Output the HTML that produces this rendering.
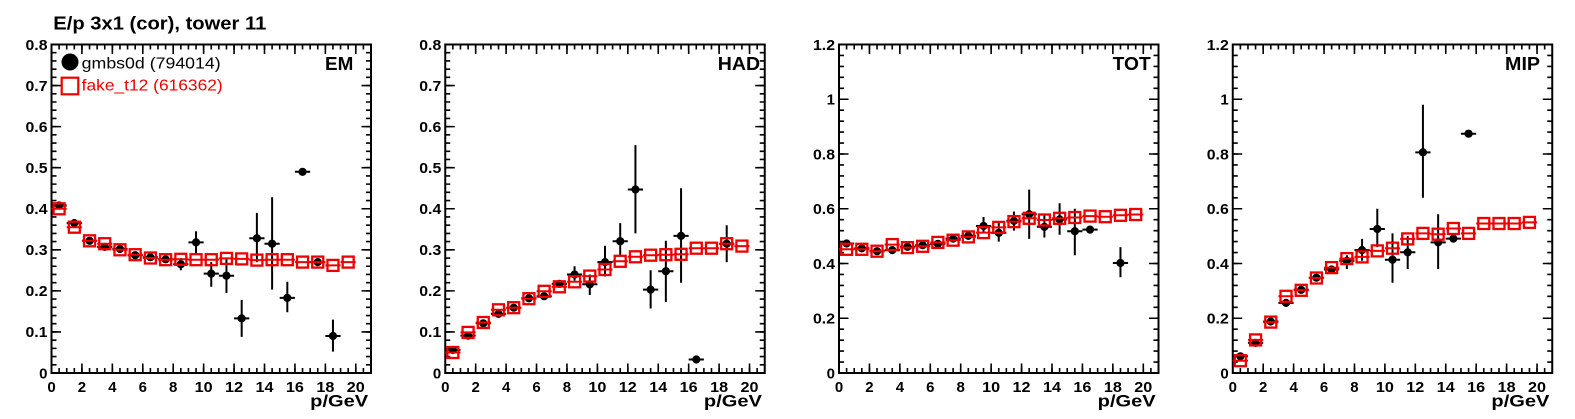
<!DOCTYPE html>
<html>
<head>
<meta charset="utf-8">
<style>
html,body{margin:0;padding:0;background:#fff;}
svg{display:block;}
text{font-family:"Liberation Sans",Arial,sans-serif;}
.tl{font-size:15px;font-weight:bold;fill:#000;}
.ax{font-size:17px;font-weight:bold;fill:#000;}
.lb{font-size:18px;font-weight:bold;fill:#000;}
</style>
</head>
<body>
<svg width="1575" height="419" viewBox="0 0 1575 419" xmlns="http://www.w3.org/2000/svg">
<rect x="0" y="0" width="1575" height="419" fill="#fff"/>
<defs>
  <circle id="dot" r="4.1" fill="#000"/>
  <rect id="sq" x="-5.5" y="-5.5" width="11" height="11" fill="none" stroke="#e00" stroke-width="2.3"/>
  <g id="ticksA" stroke="#000" fill="none">
    <line x1="0" y1="-4.75" x2="319.5" y2="-4.75" stroke-width="9.5" stroke-dasharray="1.6 28.8286" stroke-dashoffset="0.8"/>
    <line x1="0" y1="-2.5" x2="319.5" y2="-2.5" stroke-width="5" stroke-dasharray="1.6 6.0071" stroke-dashoffset="0.8"/>
    <line x1="0" y1="-323.75" x2="319.5" y2="-323.75" stroke-width="9.5" stroke-dasharray="1.6 28.8286" stroke-dashoffset="0.8"/>
    <line x1="0" y1="-326" x2="319.5" y2="-326" stroke-width="5" stroke-dasharray="1.6 6.0071" stroke-dashoffset="0.8"/>
    <line x1="4.75" y1="0" x2="4.75" y2="-328.5" stroke-width="9.5" stroke-dasharray="1.6 39.4625" stroke-dashoffset="0.8"/>
    <line x1="2.5" y1="0" x2="2.5" y2="-328.5" stroke-width="5" stroke-dasharray="1.6 6.6125" stroke-dashoffset="0.8"/>
    <line x1="314.75" y1="0" x2="314.75" y2="-328.5" stroke-width="9.5" stroke-dasharray="1.6 39.4625" stroke-dashoffset="0.8"/>
    <line x1="317" y1="0" x2="317" y2="-328.5" stroke-width="5" stroke-dasharray="1.6 6.6125" stroke-dashoffset="0.8"/>
    <rect x="0" y="-328.5" width="319.5" height="328.5" stroke-width="2"/>
  </g>
  <g id="ticksB" stroke="#000" fill="none">
    <line x1="0" y1="-4.75" x2="319.5" y2="-4.75" stroke-width="9.5" stroke-dasharray="1.6 28.8286" stroke-dashoffset="0.8"/>
    <line x1="0" y1="-2.5" x2="319.5" y2="-2.5" stroke-width="5" stroke-dasharray="1.6 6.0071" stroke-dashoffset="0.8"/>
    <line x1="0" y1="-323.75" x2="319.5" y2="-323.75" stroke-width="9.5" stroke-dasharray="1.6 28.8286" stroke-dashoffset="0.8"/>
    <line x1="0" y1="-326" x2="319.5" y2="-326" stroke-width="5" stroke-dasharray="1.6 6.0071" stroke-dashoffset="0.8"/>
    <line x1="4.75" y1="0" x2="4.75" y2="-328.5" stroke-width="9.5" stroke-dasharray="1.6 53.15" stroke-dashoffset="0.8"/>
    <line x1="2.5" y1="0" x2="2.5" y2="-328.5" stroke-width="5" stroke-dasharray="1.6 9.35" stroke-dashoffset="0.8"/>
    <line x1="314.75" y1="0" x2="314.75" y2="-328.5" stroke-width="9.5" stroke-dasharray="1.6 53.15" stroke-dashoffset="0.8"/>
    <line x1="317" y1="0" x2="317" y2="-328.5" stroke-width="5" stroke-dasharray="1.6 9.35" stroke-dashoffset="0.8"/>
    <rect x="0" y="-328.5" width="319.5" height="328.5" stroke-width="2"/>
  </g>
</defs>

<!-- Title -->
<text x="53.3" y="29.3" font-size="18.5" font-weight="bold" textLength="213" lengthAdjust="spacingAndGlyphs">E/p 3x1 (cor), tower 11</text>

<!-- ================= PANEL 1 : EM ================= -->
<g transform="translate(51.5,0)">
  <g class="tl" text-anchor="end">
    <text x="-4" y="378.3">0</text>
    <text x="-4" y="337.2" textLength="22" lengthAdjust="spacingAndGlyphs">0.1</text>
    <text x="-4" y="296.2" textLength="22" lengthAdjust="spacingAndGlyphs">0.2</text>
    <text x="-4" y="255.1" textLength="22" lengthAdjust="spacingAndGlyphs">0.3</text>
    <text x="-4" y="214.1" textLength="22" lengthAdjust="spacingAndGlyphs">0.4</text>
    <text x="-4" y="173" textLength="22" lengthAdjust="spacingAndGlyphs">0.5</text>
    <text x="-4" y="131.9" textLength="22" lengthAdjust="spacingAndGlyphs">0.6</text>
    <text x="-4" y="90.9" textLength="22" lengthAdjust="spacingAndGlyphs">0.7</text>
    <text x="-4" y="49.8" textLength="22" lengthAdjust="spacingAndGlyphs">0.8</text>
  </g>
  <g class="tl" text-anchor="middle">
    <text x="0" y="392">0</text>
    <text x="30.43" y="392">2</text>
    <text x="60.86" y="392">4</text>
    <text x="91.29" y="392">6</text>
    <text x="121.71" y="392">8</text>
    <text x="152.14" y="392" textLength="18" lengthAdjust="spacingAndGlyphs">10</text>
    <text x="182.57" y="392" textLength="18" lengthAdjust="spacingAndGlyphs">12</text>
    <text x="213" y="392" textLength="18" lengthAdjust="spacingAndGlyphs">14</text>
    <text x="243.43" y="392" textLength="18" lengthAdjust="spacingAndGlyphs">16</text>
    <text x="273.86" y="392" textLength="18" lengthAdjust="spacingAndGlyphs">18</text>
    <text x="304.29" y="392" textLength="18" lengthAdjust="spacingAndGlyphs">20</text>
  </g>
  <text class="ax" x="258.7" y="406.5" textLength="58" lengthAdjust="spacingAndGlyphs">p/GeV</text>
  <text class="lb" x="273.5" y="70" textLength="28.3" lengthAdjust="spacingAndGlyphs">EM</text>

  <g transform="translate(0,373)">
    <use href="#ticksA"/>
    <!-- black -->
    <path fill="none" stroke="#000" stroke-width="2" d="M0,-167.5h15.21M15.21,-149.9h15.21M30.43,-132.2h15.21M45.64,-126.1h15.21M60.86,-124h15.21M76.07,-117.8h15.21M91.29,-115.8h15.21M106.5,-113.7h15.21M121.71,-108.8h15.21M136.93,-130.6h15.21M152.14,-99.4h15.21M167.36,-97.3h15.21M182.57,-54.6h15.21M197.79,-134.7h15.21M213,-129.3h15.21M228.21,-75.1h15.21M243.43,-201.2h15.21M258.64,-110.9h15.21M273.86,-37h15.21
    M129.32,-102.7V-115M144.54,-119.1V-141.7M159.75,-86.2V-110.9M174.96,-80.1V-115M190.18,-36.1V-73.1M205.39,-110.9V-160.1M220.61,-83.4V-175.7M235.82,-60.8V-91.2M281.46,-21.4V-53.4"/>
    <use href="#dot" x="7.61" y="-167.5"/><use href="#dot" x="22.82" y="-149.9"/><use href="#dot" x="38.04" y="-132.2"/><use href="#dot" x="53.25" y="-126.1"/><use href="#dot" x="68.46" y="-124"/><use href="#dot" x="83.68" y="-117.8"/><use href="#dot" x="98.89" y="-115.8"/><use href="#dot" x="114.11" y="-113.7"/><use href="#dot" x="129.32" y="-108.8"/><use href="#dot" x="144.54" y="-130.6"/><use href="#dot" x="159.75" y="-99.4"/><use href="#dot" x="174.96" y="-97.3"/><use href="#dot" x="190.18" y="-54.6"/><use href="#dot" x="205.39" y="-134.7"/><use href="#dot" x="220.61" y="-129.3"/><use href="#dot" x="235.82" y="-75.1"/><use href="#dot" x="251.04" y="-201.2"/><use href="#dot" x="266.25" y="-110.9"/><use href="#dot" x="281.46" y="-37"/>
    <!-- red -->
    <path fill="none" stroke="#e00" stroke-width="2" d="M0,-164.2h15.21M15.21,-145.8h15.21M30.43,-132.2h15.21M45.64,-129.3h15.21M60.86,-123.2h15.21M76.07,-118.3h15.21M91.29,-115h15.21M106.5,-113.3h15.21M121.71,-113.7h15.21M136.93,-113.3h15.21M152.14,-113.3h15.21M167.36,-114.6h15.21M182.57,-114.1h15.21M197.79,-112.9h15.21M213,-113.3h15.21M228.21,-113.3h15.21M243.43,-110.9h15.21M258.64,-110.9h15.21M273.86,-107.6h15.21M289.07,-110.9h15.21"/>
    <use href="#sq" x="7.61" y="-164.2"/><use href="#sq" x="22.82" y="-145.8"/><use href="#sq" x="38.04" y="-132.2"/><use href="#sq" x="53.25" y="-129.3"/><use href="#sq" x="68.46" y="-123.2"/><use href="#sq" x="83.68" y="-118.3"/><use href="#sq" x="98.89" y="-115"/><use href="#sq" x="114.11" y="-113.3"/><use href="#sq" x="129.32" y="-113.7"/><use href="#sq" x="144.54" y="-113.3"/><use href="#sq" x="159.75" y="-113.3"/><use href="#sq" x="174.96" y="-114.6"/><use href="#sq" x="190.18" y="-114.1"/><use href="#sq" x="205.39" y="-112.9"/><use href="#sq" x="220.61" y="-113.3"/><use href="#sq" x="235.82" y="-113.3"/><use href="#sq" x="251.04" y="-110.9"/><use href="#sq" x="266.25" y="-110.9"/><use href="#sq" x="281.46" y="-107.6"/><use href="#sq" x="296.68" y="-110.9"/>
  </g>
</g>

<!-- Legend -->
<circle cx="70" cy="62" r="8.5" fill="#000"/>
<text x="81.7" y="68.3" font-size="16" fill="#000" textLength="139" lengthAdjust="spacingAndGlyphs">gmbs0d (794014)</text>
<rect x="61.7" y="77.7" width="16.6" height="16.6" fill="none" stroke="#e00" stroke-width="2.2"/>
<text x="81.7" y="90.7" font-size="16" fill="#e00" textLength="141" lengthAdjust="spacingAndGlyphs">fake_t12 (616362)</text>

<!-- ================= PANEL 2 : HAD ================= -->
<g transform="translate(445.25,0)">
  <g class="tl" text-anchor="end">
    <text x="-4" y="378.3">0</text>
    <text x="-4" y="337.2" textLength="22" lengthAdjust="spacingAndGlyphs">0.1</text>
    <text x="-4" y="296.2" textLength="22" lengthAdjust="spacingAndGlyphs">0.2</text>
    <text x="-4" y="255.1" textLength="22" lengthAdjust="spacingAndGlyphs">0.3</text>
    <text x="-4" y="214.1" textLength="22" lengthAdjust="spacingAndGlyphs">0.4</text>
    <text x="-4" y="173" textLength="22" lengthAdjust="spacingAndGlyphs">0.5</text>
    <text x="-4" y="131.9" textLength="22" lengthAdjust="spacingAndGlyphs">0.6</text>
    <text x="-4" y="90.9" textLength="22" lengthAdjust="spacingAndGlyphs">0.7</text>
    <text x="-4" y="49.8" textLength="22" lengthAdjust="spacingAndGlyphs">0.8</text>
  </g>
  <g class="tl" text-anchor="middle">
    <text x="0" y="392">0</text>
    <text x="30.43" y="392">2</text>
    <text x="60.86" y="392">4</text>
    <text x="91.29" y="392">6</text>
    <text x="121.71" y="392">8</text>
    <text x="152.14" y="392" textLength="18" lengthAdjust="spacingAndGlyphs">10</text>
    <text x="182.57" y="392" textLength="18" lengthAdjust="spacingAndGlyphs">12</text>
    <text x="213" y="392" textLength="18" lengthAdjust="spacingAndGlyphs">14</text>
    <text x="243.43" y="392" textLength="18" lengthAdjust="spacingAndGlyphs">16</text>
    <text x="273.86" y="392" textLength="18" lengthAdjust="spacingAndGlyphs">18</text>
    <text x="304.29" y="392" textLength="18" lengthAdjust="spacingAndGlyphs">20</text>
  </g>
  <text class="ax" x="258.7" y="406.5" textLength="58" lengthAdjust="spacingAndGlyphs">p/GeV</text>
  <text class="lb" x="272.5" y="70" textLength="42.3" lengthAdjust="spacingAndGlyphs">HAD</text>

  <g transform="translate(0,373)">
    <use href="#ticksA"/>
    <path fill="none" stroke="#000" stroke-width="2" d="M0,-23h15.21M15.21,-37.4h15.21M30.43,-49.7h15.21M45.64,-59.1h15.21M60.86,-65.3h15.21M76.07,-74.7h15.21M91.29,-76.8h15.21M106.5,-89.1h15.21M121.71,-98.5h15.21M136.93,-88.7h15.21M152.14,-110.9h15.21M167.36,-131.8h15.21M182.57,-183.5h15.21M197.79,-83.4h15.21M213,-101.8h15.21M228.21,-137.1h15.21M243.43,-13.5h15.21M273.86,-129.3h15.21
    M129.32,-92.4V-106.8M144.54,-78V-98.5M159.75,-96.5V-127.3M174.96,-117V-149.9M190.18,-139.6V-227.9M205.39,-64.5V-102.7M220.61,-71V-132.2M235.82,-90.3V-184.8M281.46,-110.9V-147.8"/>
    <use href="#dot" x="7.61" y="-23"/><use href="#dot" x="22.82" y="-37.4"/><use href="#dot" x="38.04" y="-49.7"/><use href="#dot" x="53.25" y="-59.1"/><use href="#dot" x="68.46" y="-65.3"/><use href="#dot" x="83.68" y="-74.7"/><use href="#dot" x="98.89" y="-76.8"/><use href="#dot" x="114.11" y="-89.1"/><use href="#dot" x="129.32" y="-98.5"/><use href="#dot" x="144.54" y="-88.7"/><use href="#dot" x="159.75" y="-110.9"/><use href="#dot" x="174.96" y="-131.8"/><use href="#dot" x="190.18" y="-183.5"/><use href="#dot" x="205.39" y="-83.4"/><use href="#dot" x="220.61" y="-101.8"/><use href="#dot" x="235.82" y="-137.1"/><use href="#dot" x="251.04" y="-13.5"/><use href="#dot" x="281.46" y="-129.3"/>
    <path fill="none" stroke="#e00" stroke-width="2" d="M0,-20.5h15.21M15.21,-40.6h15.21M30.43,-50.5h15.21M45.64,-63.2h15.21M60.86,-65.3h15.21M76.07,-74.3h15.21M91.29,-81.7h15.21M106.5,-86.2h15.21M121.71,-91.2h15.21M136.93,-96.9h15.21M152.14,-103.5h15.21M167.36,-111.7h15.21M182.57,-116.2h15.21M197.79,-117.8h15.21M213,-118.3h15.21M228.21,-118.7h15.21M243.43,-124.8h15.21M258.64,-124.8h15.21M273.86,-129.3h15.21M289.07,-126.9h15.21"/>
    <use href="#sq" x="7.61" y="-20.5"/><use href="#sq" x="22.82" y="-40.6"/><use href="#sq" x="38.04" y="-50.5"/><use href="#sq" x="53.25" y="-63.2"/><use href="#sq" x="68.46" y="-65.3"/><use href="#sq" x="83.68" y="-74.3"/><use href="#sq" x="98.89" y="-81.7"/><use href="#sq" x="114.11" y="-86.2"/><use href="#sq" x="129.32" y="-91.2"/><use href="#sq" x="144.54" y="-96.9"/><use href="#sq" x="159.75" y="-103.5"/><use href="#sq" x="174.96" y="-111.7"/><use href="#sq" x="190.18" y="-116.2"/><use href="#sq" x="205.39" y="-117.8"/><use href="#sq" x="220.61" y="-118.3"/><use href="#sq" x="235.82" y="-118.7"/><use href="#sq" x="251.04" y="-124.8"/><use href="#sq" x="266.25" y="-124.8"/><use href="#sq" x="281.46" y="-129.3"/><use href="#sq" x="296.68" y="-126.9"/>
  </g>
</g>

<!-- ================= PANEL 3 : TOT ================= -->
<g transform="translate(839,0)">
  <g class="tl" text-anchor="end">
    <text x="-4" y="378.3">0</text>
    <text x="-4" y="323.55" textLength="22" lengthAdjust="spacingAndGlyphs">0.2</text>
    <text x="-4" y="268.8" textLength="22" lengthAdjust="spacingAndGlyphs">0.4</text>
    <text x="-4" y="214.05" textLength="22" lengthAdjust="spacingAndGlyphs">0.6</text>
    <text x="-4" y="159.3" textLength="22" lengthAdjust="spacingAndGlyphs">0.8</text>
    <text x="-4" y="104.55">1</text>
    <text x="-4" y="49.8" textLength="22" lengthAdjust="spacingAndGlyphs">1.2</text>
  </g>
  <g class="tl" text-anchor="middle">
    <text x="0" y="392">0</text>
    <text x="30.43" y="392">2</text>
    <text x="60.86" y="392">4</text>
    <text x="91.29" y="392">6</text>
    <text x="121.71" y="392">8</text>
    <text x="152.14" y="392" textLength="18" lengthAdjust="spacingAndGlyphs">10</text>
    <text x="182.57" y="392" textLength="18" lengthAdjust="spacingAndGlyphs">12</text>
    <text x="213" y="392" textLength="18" lengthAdjust="spacingAndGlyphs">14</text>
    <text x="243.43" y="392" textLength="18" lengthAdjust="spacingAndGlyphs">16</text>
    <text x="273.86" y="392" textLength="18" lengthAdjust="spacingAndGlyphs">18</text>
    <text x="304.29" y="392" textLength="18" lengthAdjust="spacingAndGlyphs">20</text>
  </g>
  <text class="ax" x="258.7" y="406.5" textLength="58" lengthAdjust="spacingAndGlyphs">p/GeV</text>
  <text class="lb" x="273.7" y="70" textLength="38" lengthAdjust="spacingAndGlyphs">TOT</text>

  <g transform="translate(0,373)">
    <use href="#ticksB"/>
    <path fill="none" stroke="#000" stroke-width="2" d="M0,-129.5h15.21M15.21,-124.6h15.21M30.43,-121.8h15.21M45.64,-122.9h15.21M60.86,-126.2h15.21M76.07,-127.8h15.21M91.29,-129.2h15.21M106.5,-134.4h15.21M121.71,-137.1h15.21M136.93,-147h15.21M152.14,-140.2h15.21M167.36,-152.2h15.21M182.57,-158.8h15.21M197.79,-146.2h15.21M213,-153.6h15.21M228.21,-141.8h15.21M243.43,-143.4h15.21M273.86,-110h15.21
    M144.54,-139.6V-156M159.75,-131.4V-150.6M174.96,-142.4V-161.5M190.18,-134.1V-183.4M205.39,-135.5V-158.8M220.61,-138.2V-169.7M235.82,-117.7V-164.3M281.46,-95.8V-125.9"/>
    <use href="#dot" x="7.61" y="-129.5"/><use href="#dot" x="22.82" y="-124.6"/><use href="#dot" x="38.04" y="-121.8"/><use href="#dot" x="53.25" y="-122.9"/><use href="#dot" x="68.46" y="-126.2"/><use href="#dot" x="83.68" y="-127.8"/><use href="#dot" x="98.89" y="-129.2"/><use href="#dot" x="114.11" y="-134.4"/><use href="#dot" x="129.32" y="-137.1"/><use href="#dot" x="144.54" y="-147"/><use href="#dot" x="159.75" y="-140.2"/><use href="#dot" x="174.96" y="-152.2"/><use href="#dot" x="190.18" y="-158.8"/><use href="#dot" x="205.39" y="-146.2"/><use href="#dot" x="220.61" y="-153.6"/><use href="#dot" x="235.82" y="-141.8"/><use href="#dot" x="251.04" y="-143.4"/><use href="#dot" x="281.46" y="-110"/>
    <path fill="none" stroke="#e00" stroke-width="2" d="M0,-123.7h15.21M15.21,-123.7h15.21M30.43,-121.8h15.21M45.64,-128.4h15.21M60.86,-125.4h15.21M76.07,-126.7h15.21M91.29,-130.6h15.21M106.5,-132.8h15.21M121.71,-136.1h15.21M136.93,-140.4h15.21M152.14,-145.6h15.21M167.36,-151.4h15.21M182.57,-154.7h15.21M197.79,-153h15.21M213,-154.7h15.21M228.21,-155.5h15.21M243.43,-156.9h15.21M258.64,-156.3h15.21M273.86,-157.7h15.21M289.07,-158.5h15.21"/>
    <use href="#sq" x="7.61" y="-123.7"/><use href="#sq" x="22.82" y="-123.7"/><use href="#sq" x="38.04" y="-121.8"/><use href="#sq" x="53.25" y="-128.4"/><use href="#sq" x="68.46" y="-125.4"/><use href="#sq" x="83.68" y="-126.7"/><use href="#sq" x="98.89" y="-130.6"/><use href="#sq" x="114.11" y="-132.8"/><use href="#sq" x="129.32" y="-136.1"/><use href="#sq" x="144.54" y="-140.4"/><use href="#sq" x="159.75" y="-145.6"/><use href="#sq" x="174.96" y="-151.4"/><use href="#sq" x="190.18" y="-154.7"/><use href="#sq" x="205.39" y="-153"/><use href="#sq" x="220.61" y="-154.7"/><use href="#sq" x="235.82" y="-155.5"/><use href="#sq" x="251.04" y="-156.9"/><use href="#sq" x="266.25" y="-156.3"/><use href="#sq" x="281.46" y="-157.7"/><use href="#sq" x="296.68" y="-158.5"/>
  </g>
</g>

<!-- ================= PANEL 4 : MIP ================= -->
<g transform="translate(1232.75,0)">
  <g class="tl" text-anchor="end">
    <text x="-4" y="378.3">0</text>
    <text x="-4" y="323.55" textLength="22" lengthAdjust="spacingAndGlyphs">0.2</text>
    <text x="-4" y="268.8" textLength="22" lengthAdjust="spacingAndGlyphs">0.4</text>
    <text x="-4" y="214.05" textLength="22" lengthAdjust="spacingAndGlyphs">0.6</text>
    <text x="-4" y="159.3" textLength="22" lengthAdjust="spacingAndGlyphs">0.8</text>
    <text x="-4" y="104.55">1</text>
    <text x="-4" y="49.8" textLength="22" lengthAdjust="spacingAndGlyphs">1.2</text>
  </g>
  <g class="tl" text-anchor="middle">
    <text x="0" y="392">0</text>
    <text x="30.43" y="392">2</text>
    <text x="60.86" y="392">4</text>
    <text x="91.29" y="392">6</text>
    <text x="121.71" y="392">8</text>
    <text x="152.14" y="392" textLength="18" lengthAdjust="spacingAndGlyphs">10</text>
    <text x="182.57" y="392" textLength="18" lengthAdjust="spacingAndGlyphs">12</text>
    <text x="213" y="392" textLength="18" lengthAdjust="spacingAndGlyphs">14</text>
    <text x="243.43" y="392" textLength="18" lengthAdjust="spacingAndGlyphs">16</text>
    <text x="273.86" y="392" textLength="18" lengthAdjust="spacingAndGlyphs">18</text>
    <text x="304.29" y="392" textLength="18" lengthAdjust="spacingAndGlyphs">20</text>
  </g>
  <text class="ax" x="258.7" y="406.5" textLength="58" lengthAdjust="spacingAndGlyphs">p/GeV</text>
  <text class="lb" x="272.3" y="70" textLength="35" lengthAdjust="spacingAndGlyphs">MIP</text>

  <g transform="translate(0,373)">
    <use href="#ticksB"/>
    <path fill="none" stroke="#000" stroke-width="2" d="M0,-16.7h15.21M15.21,-30.1h15.21M30.43,-51.5h15.21M45.64,-70.1h15.21M60.86,-83.2h15.21M76.07,-95.3h15.21M91.29,-103.5h15.21M106.5,-112.2h15.21M121.71,-122.9h15.21M136.93,-144h15.21M152.14,-113.3h15.21M167.36,-120.7h15.21M182.57,-220.6h15.21M197.79,-130.6h15.21M213,-134.4h15.21M228.21,-239.3h15.21
    M114.11,-104V-117.7M129.32,-112.2V-134.1M144.54,-125.9V-164.3M159.75,-90.3V-139.6M174.96,-104V-136.9M190.18,-175.2V-268.3M205.39,-104V-158.8"/>
    <use href="#dot" x="7.61" y="-16.7"/><use href="#dot" x="22.82" y="-30.1"/><use href="#dot" x="38.04" y="-51.5"/><use href="#dot" x="53.25" y="-70.1"/><use href="#dot" x="68.46" y="-83.2"/><use href="#dot" x="83.68" y="-95.3"/><use href="#dot" x="98.89" y="-103.5"/><use href="#dot" x="114.11" y="-112.2"/><use href="#dot" x="129.32" y="-122.9"/><use href="#dot" x="144.54" y="-144"/><use href="#dot" x="159.75" y="-113.3"/><use href="#dot" x="174.96" y="-120.7"/><use href="#dot" x="190.18" y="-220.6"/><use href="#dot" x="205.39" y="-130.6"/><use href="#dot" x="220.61" y="-134.4"/><use href="#dot" x="235.82" y="-239.3"/>
    <path fill="none" stroke="#e00" stroke-width="2" d="M0,-12.3h15.21M15.21,-33.1h15.21M30.43,-50.9h15.21M45.64,-76.7h15.21M60.86,-82.7h15.21M76.07,-95h15.21M91.29,-105.4h15.21M106.5,-114.4h15.21M121.71,-116.1h15.21M136.93,-122.1h15.21M152.14,-124.8h15.21M167.36,-134.1h15.21M182.57,-139.6h15.21M197.79,-138.8h15.21M213,-144.5h15.21M228.21,-139.6h15.21M243.43,-149.5h15.21M258.64,-149.5h15.21M273.86,-149.5h15.21M289.07,-150.6h15.21"/>
    <use href="#sq" x="7.61" y="-12.3"/><use href="#sq" x="22.82" y="-33.1"/><use href="#sq" x="38.04" y="-50.9"/><use href="#sq" x="53.25" y="-76.7"/><use href="#sq" x="68.46" y="-82.7"/><use href="#sq" x="83.68" y="-95"/><use href="#sq" x="98.89" y="-105.4"/><use href="#sq" x="114.11" y="-114.4"/><use href="#sq" x="129.32" y="-116.1"/><use href="#sq" x="144.54" y="-122.1"/><use href="#sq" x="159.75" y="-124.8"/><use href="#sq" x="174.96" y="-134.1"/><use href="#sq" x="190.18" y="-139.6"/><use href="#sq" x="205.39" y="-138.8"/><use href="#sq" x="220.61" y="-144.5"/><use href="#sq" x="235.82" y="-139.6"/><use href="#sq" x="251.04" y="-149.5"/><use href="#sq" x="266.25" y="-149.5"/><use href="#sq" x="281.46" y="-149.5"/><use href="#sq" x="296.68" y="-150.6"/>
  </g>
</g>
</svg>
</body>
</html>
